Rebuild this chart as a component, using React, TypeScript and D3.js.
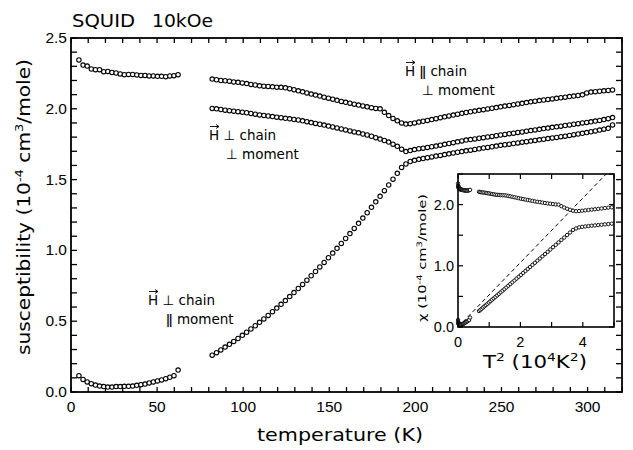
import React from "react";
import * as d3 from "d3";

// Temperatures (K) of the low-temperature sweep
const lowTemps = [
  4.6, 7.0, 9.4, 11.8, 14.2, 16.6, 19.0, 21.4, 23.8, 26.2, 28.6, 31.0, 33.4,
  35.8, 38.2, 40.6, 43.0, 45.4, 47.8, 50.2, 52.6, 55.0, 57.4, 59.8, 62.2,
];
// upper branch (perpendicular to moment), 10^-4 cm^3/mole
const lowPerpMoment = [
  2.345, 2.309, 2.302, 2.281, 2.276, 2.276, 2.262, 2.264, 2.257, 2.253, 2.246,
  2.241, 2.243, 2.243, 2.239, 2.236, 2.236, 2.232, 2.232, 2.229, 2.229, 2.227,
  2.232, 2.234, 2.241,
];
// lower branch (parallel to moment)
const lowParMoment = [
  0.115, 0.089, 0.071, 0.059, 0.049, 0.042, 0.038, 0.035, 0.035, 0.038, 0.038,
  0.04, 0.04, 0.042, 0.047, 0.052, 0.056, 0.064, 0.071, 0.078, 0.085, 0.094,
  0.104, 0.115, 0.155,
];

// Temperatures (K) of the high-temperature sweep
const highTemps = [
  82, 84.5, 87, 89.5, 92, 94.5, 97, 99.5, 102, 104.5, 107, 109.5, 112, 114.5,
  117, 119.5, 122, 124.5, 127, 129.5, 132, 134.5, 137, 139.5, 142, 144.5, 147,
  149.5, 152, 154.5, 157, 159.5, 162, 164.5, 167, 169.5, 172, 174.5, 177,
  179.5, 182, 184.5, 187, 189.5, 192, 194.5, 197, 199.5, 202, 204.5, 207,
  209.5, 212, 214.5, 217, 219.5, 222, 224.5, 227, 229.5, 232, 234.5, 237,
  239.5, 242, 244.5, 247, 249.5, 252, 254.5, 257, 259.5, 262, 264.5, 267,
  269.5, 272, 274.5, 277, 279.5, 282, 284.5, 287, 289.5, 292, 294.5, 297,
  299.5, 302, 304.5, 307, 309.5, 312, 314.5,
];
// H || chain, perpendicular to moment
const chainParPerpMoment = [
  2.21, 2.205, 2.2, 2.198, 2.195, 2.19, 2.187, 2.183, 2.178, 2.172, 2.168,
  2.162, 2.16, 2.158, 2.155, 2.153, 2.152, 2.148, 2.142, 2.135, 2.127, 2.12,
  2.112, 2.104, 2.097, 2.09, 2.082, 2.075, 2.068, 2.06, 2.052, 2.046, 2.04,
  2.033, 2.026, 2.02, 2.014, 2.008, 2.003, 2.0, 1.975, 1.952, 1.932, 1.915,
  1.9, 1.892, 1.895, 1.9, 1.906, 1.912, 1.918, 1.924, 1.93, 1.937, 1.943,
  1.95, 1.956, 1.962, 1.968, 1.974, 1.979, 1.984, 1.989, 1.994, 1.999, 2.004,
  2.009, 2.014, 2.019, 2.024, 2.029, 2.034, 2.039, 2.044, 2.049, 2.054, 2.058,
  2.062, 2.066, 2.07, 2.074, 2.078, 2.082, 2.086, 2.09, 2.094, 2.099, 2.112,
  2.118, 2.121, 2.124, 2.127, 2.13, 2.133,
];
// H perpendicular to chain, perpendicular to moment
const chainPerpPerpMoment = [
  2.003, 2.0, 1.995, 1.99, 1.987, 1.983, 1.98, 1.976, 1.972, 1.967, 1.962,
  1.957, 1.953, 1.949, 1.945, 1.941, 1.937, 1.933, 1.929, 1.925, 1.921, 1.915,
  1.909, 1.903, 1.897, 1.891, 1.885, 1.878, 1.872, 1.865, 1.858, 1.851, 1.844,
  1.837, 1.83, 1.822, 1.815, 1.806, 1.796, 1.786, 1.776, 1.765, 1.75, 1.735,
  1.715, 1.698, 1.705, 1.712, 1.718, 1.722, 1.727, 1.732, 1.737, 1.743, 1.749,
  1.755, 1.761, 1.767, 1.773, 1.779, 1.783, 1.787, 1.792, 1.796, 1.801, 1.805,
  1.81, 1.815, 1.819, 1.824, 1.828, 1.833, 1.837, 1.842, 1.846, 1.851, 1.855,
  1.86, 1.864, 1.869, 1.873, 1.877, 1.882, 1.886, 1.891, 1.895, 1.9, 1.904,
  1.908, 1.913, 1.918, 1.924, 1.93, 1.938,
];
// H perpendicular to chain, parallel to moment
const chainPerpParMoment = [
  0.26, 0.278, 0.297, 0.317, 0.337, 0.357, 0.378, 0.4, 0.422, 0.445, 0.468,
  0.492, 0.516, 0.541, 0.567, 0.593, 0.619, 0.646, 0.674, 0.702, 0.731, 0.76,
  0.79, 0.821, 0.851, 0.883, 0.915, 0.948, 0.981, 1.015, 1.049, 1.084, 1.119,
  1.155, 1.191, 1.228, 1.266, 1.304, 1.343, 1.382, 1.422, 1.462, 1.503, 1.544,
  1.586, 1.61, 1.628, 1.636, 1.643, 1.649, 1.655, 1.66, 1.666, 1.671, 1.677,
  1.682, 1.688, 1.693, 1.698, 1.703, 1.708, 1.713, 1.718, 1.723, 1.727, 1.732,
  1.737, 1.742, 1.746, 1.75, 1.755, 1.759, 1.764, 1.768, 1.772, 1.777, 1.781,
  1.785, 1.79, 1.794, 1.798, 1.803, 1.807, 1.812, 1.817, 1.822, 1.827, 1.832,
  1.838, 1.844, 1.85, 1.856, 1.862, 1.886,
];

const xTickLabels = [0, 50, 100, 150, 200, 250, 300];
const yTickLabels = [0, 0.5, 1.0, 1.5, 2.0, 2.5];
const insetXTickLabels = [0, 2, 4];
const insetYTickLabels = [0, 1, 2];
// T^2 guide line through the origin (T^2 in 10^4 K^2, chi)
const insetGuide: [number, number][] = [
  [0, 0],
  [4.75, 2.5],
];

type Pt = { t: number; v: number };
const zip = (ts: number[], vs: number[]): Pt[] =>
  ts.map((t, i) => ({ t, v: vs[i] }));

const NUM_FONT = "'Liberation Sans', Arial, sans-serif";
const TXT_FONT = "'DejaVu Sans', sans-serif";
const PARALLEL = "\u01C1";
const PERP = "\u22A5";

function VecH({ x, y }: { x: number; y: number }) {
  // arrow over the "H"
  return (
    <path
      d={`M${x + 1},${y - 13.5}h9 m-3,-2 l3,2 l-3,2`}
      fill="none"
      stroke="#000"
      strokeWidth={0.9}
    />
  );
}

function FieldLabel({
  x,
  y,
  rel,
  moment,
  indent,
}: {
  x: number;
  y: number;
  rel: string;
  moment: string;
  indent: number;
}) {
  return (
    <g fontFamily={TXT_FONT} fontSize={13.5} fill="#000">
      <VecH x={x} y={y} />
      <text x={x} y={y}>
        {`H ${rel} chain`}
      </text>
      <text x={x + indent} y={y + 19}>
        {`${moment} moment`}
      </text>
    </g>
  );
}

export default function App() {
  const W = 633;
  const H = 450;
  const x = d3.scaleLinear().domain([0, 320]).range([71, 622]);
  const y = d3.scaleLinear().domain([0, 2.5]).range([392, 38]);
  const ix = d3.scaleLinear().domain([0, 5]).range([458, 614]);
  const iy = d3.scaleLinear().domain([0, 2.5]).range([327, 174]);

  const series: Pt[][] = [
    zip(lowTemps, lowPerpMoment),
    zip(lowTemps, lowParMoment),
    zip(highTemps, chainParPerpMoment),
    zip(highTemps, chainPerpPerpMoment),
    zip(highTemps, chainPerpParMoment),
  ];
  // the inset shows the perpendicular-to-moment branch along the chain and
  // the parallel-to-moment branch against T^2
  const insetSeries: Pt[][] = [
    zip(lowTemps, lowPerpMoment),
    zip(lowTemps, lowParMoment),
    zip(highTemps, chainParPerpMoment),
    zip(highTemps, chainPerpParMoment),
  ].map((s) => s.filter((p) => (p.t * p.t) / 1e4 <= 5));

  const [x0, x1] = x.range();
  const [y0, y1] = y.range();
  const xMinor = x.ticks(32);
  const yMinor = y.ticks(25);

  const [ix0, ix1] = ix.range();
  const [iy0, iy1] = iy.range();

  const guide = d3
    .line<[number, number]>()
    .x((d) => ix(d[0]))
    .y((d) => iy(d[1]));

  return (
    <svg
      width={W}
      height={H}
      viewBox={`0 0 ${W} ${H}`}
      style={{ position: "absolute", left: 0, top: 0, background: "#fff" }}
    >
      <rect x={0} y={0} width={W} height={H} fill="#fff" />

      {/* title */}
      <g fontFamily={TXT_FONT} fontSize={17} fill="#000">
        <text x={72} y={27} textLength={63} lengthAdjust="spacingAndGlyphs">
          SQUID
        </text>
        <text x={152} y={27} textLength={61} lengthAdjust="spacingAndGlyphs">
          10kOe
        </text>
      </g>

      {/* main frame ticks */}
      <g stroke="#000" strokeWidth={1.3}>
        {xMinor.map((t) => (
          <g key={"xt" + t}>
            <line x1={x(t)} x2={x(t)} y1={y0} y2={y0 - 5} />
            <line x1={x(t)} x2={x(t)} y1={y1} y2={y1 + 5} />
          </g>
        ))}
        {yMinor.map((v) => (
          <g key={"yt" + v}>
            <line x1={x0} x2={x0 + 6} y1={y(v)} y2={y(v)} />
            <line x1={x1} x2={x1 - 6} y1={y(v)} y2={y(v)} />
          </g>
        ))}
      </g>
      <rect
        x={x0}
        y={y1}
        width={x1 - x0}
        height={y0 - y1}
        fill="none"
        stroke="#000"
        strokeWidth={1.8}
      />

      {/* tick labels */}
      <g fontFamily={NUM_FONT} fontSize={15.5} fill="#000">
        {xTickLabels.map((t) => (
          <text key={"xl" + t} x={x(t)} y={412} textAnchor="middle">
            {t}
          </text>
        ))}
        {yTickLabels.map((v) => (
          <text
            key={"yl" + v}
            x={x0 - 4}
            y={y(v) + 5}
            textAnchor="end"
          >
            {v.toFixed(1)}
          </text>
        ))}
      </g>

      {/* axis titles */}
      <text
        x={340}
        y={441}
        textAnchor="middle"
        fontFamily={TXT_FONT}
        fontSize={17}
        textLength={166}
        lengthAdjust="spacingAndGlyphs"
      >
        temperature (K)
      </text>
      <text
        transform={`translate(30,${207}) rotate(-90)`}
        textAnchor="middle"
        fontFamily={TXT_FONT}
        fontSize={17}
        textLength={296}
        lengthAdjust="spacingAndGlyphs"
      >
        <tspan>susceptibility (10</tspan>
        <tspan dy={-7} fontSize={11}>
          -4
        </tspan>
        <tspan dy={7}> cm</tspan>
        <tspan dy={-7} fontSize={11}>
          3
        </tspan>
        <tspan dy={7}>/mole)</tspan>
      </text>

      {/* data */}
      <g fill="#fff" stroke="#000" strokeWidth={1.1}>
        {series.map((s, si) =>
          s.map((p, i) => (
            <circle
              key={`m${si}-${i}`}
              cx={x(p.t)}
              cy={y(p.v)}
              r={2.2}
            />
          ))
        )}
      </g>

      {/* curve labels */}
      <FieldLabel x={405} y={76} rel={PARALLEL} moment={PERP} indent={17} />
      <FieldLabel x={209} y={140} rel={PERP} moment={PERP} indent={17} />
      <FieldLabel x={148} y={305} rel={PERP} moment={PARALLEL} indent={18} />

      {/* inset */}
      <rect
        x={ix0}
        y={iy1}
        width={ix1 - ix0}
        height={iy0 - iy1}
        fill="#fff"
      />
      <g stroke="#000" strokeWidth={1.2}>
        {ix.ticks(5).map((t) => (
          <g key={"ixt" + t}>
            <line x1={ix(t)} x2={ix(t)} y1={iy0} y2={iy0 - 5} />
            <line x1={ix(t)} x2={ix(t)} y1={iy1} y2={iy1 + 5} />
          </g>
        ))}
        {iy.ticks(5).map((v) => (
          <g key={"iyt" + v}>
            <line x1={ix0} x2={ix0 + 5} y1={iy(v)} y2={iy(v)} />
            <line x1={ix1} x2={ix1 - 5} y1={iy(v)} y2={iy(v)} />
          </g>
        ))}
      </g>
      <path
        d={guide(insetGuide) || ""}
        fill="none"
        stroke="#000"
        strokeWidth={1}
        strokeDasharray="4 3"
      />
      <g fill="#fff" stroke="#000" strokeWidth={0.9}>
        {insetSeries.map((s, si) =>
          s.map((p, i) => (
            <circle
              key={`i${si}-${i}`}
              cx={ix((p.t * p.t) / 1e4)}
              cy={iy(p.v)}
              r={1.7}
            />
          ))
        )}
      </g>
      <rect
        x={ix0}
        y={iy1}
        width={ix1 - ix0}
        height={iy0 - iy1}
        fill="none"
        stroke="#000"
        strokeWidth={1.6}
      />
      <g fontFamily={NUM_FONT} fontSize={14.5} fill="#000">
        {insetXTickLabels.map((t) => (
          <text key={"ixl" + t} x={ix(t)} y={347} textAnchor="middle">
            {t}
          </text>
        ))}
        {insetYTickLabels.map((v) => (
          <text
            key={"iyl" + v}
            x={ix0 - 4}
            y={iy(v) + 5}
            textAnchor="end"
          >
            {v.toFixed(1)}
          </text>
        ))}
      </g>
      <text
        x={483}
        y={368}
        fontFamily={TXT_FONT}
        fontSize={17}
        textLength={104}
        lengthAdjust="spacingAndGlyphs"
      >
        <tspan>T</tspan>
        <tspan dy={-7} fontSize={11}>
          2
        </tspan>
        <tspan dy={7}>{"  (10"}</tspan>
        <tspan dy={-7} fontSize={11}>
          4
        </tspan>
        <tspan dy={7}>K</tspan>
        <tspan dy={-7} fontSize={11}>
          2
        </tspan>
        <tspan dy={7}>)</tspan>
      </text>
      <text
        transform={`translate(426,${258}) rotate(-90)`}
        textAnchor="middle"
        fontFamily={TXT_FONT}
        fontSize={11}
        textLength={128}
        lengthAdjust="spacingAndGlyphs"
      >
        <tspan>{"\u03C7  (10"}</tspan>
        <tspan dy={-4} fontSize={7.5}>
          -4
        </tspan>
        <tspan dy={4}> cm</tspan>
        <tspan dy={-4} fontSize={7.5}>
          3
        </tspan>
        <tspan dy={4}>/mole)</tspan>
      </text>
    </svg>
  );
}
